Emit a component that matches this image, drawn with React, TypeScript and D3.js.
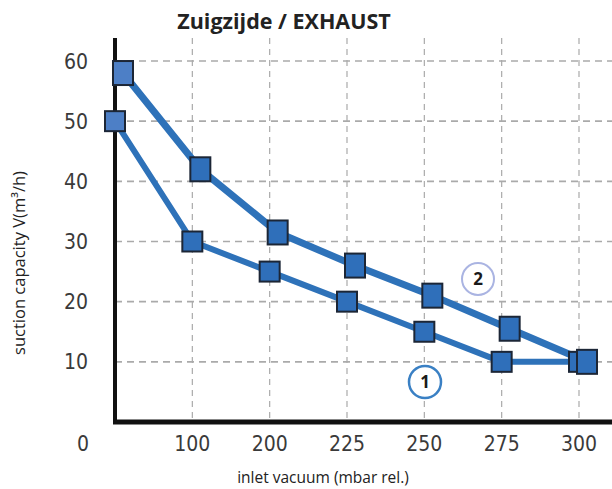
import React from "react";
import * as d3 from "d3";

const categories = ["0", "100", "200", "225", "250", "275", "300"];
const series1 = [50, 30, 25, 20, 15, 10, 10];
const series2 = [58, 42, 31.5, 26, 21, 15.5, 10];
const yTicks = [10, 20, 30, 40, 50, 60];
const title = "Zuigzijde / EXHAUST";
const xTitle = "inlet vacuum (mbar rel.)";
const yTitle = "suction capacity V(m³/h)";

const W = 612;
const H = 489;

export default function App() {
  const x = d3.scalePoint<string>().domain(categories).range([115, 579]);
  const y = d3.scaleLinear().domain([0, 60]).range([422, 61]);
  const off2 = 8;

  const line1 = d3
    .line<number>()
    .x((_, i) => x(categories[i])!)
    .y((d) => y(d));
  const line2 = d3
    .line<number>()
    .x((_, i) => x(categories[i])! + off2)
    .y((d) => y(d));

  const tickFont = "'DejaVu Sans Condensed', 'DejaVu Sans', sans-serif";

  return (
    <div style={{ position: "absolute", left: 0, top: 0 }}>
      <svg width={W} height={H} style={{ display: "block", background: "#fff" }}>
        <text x={284} y={29} textAnchor="middle" fontFamily="'Open Sans', sans-serif" fontWeight={700} fontSize={21.5} fill="#222">
          {title}
        </text>
        {/* grid */}
        {categories.slice(1).map((c) => (
          <line key={"v" + c} x1={x(c)} x2={x(c)} y1={38} y2={421} stroke="#aaa" strokeWidth={1.2} strokeDasharray="6,5" />
        ))}
        {yTicks.map((t) => (
          <line key={"h" + t} x1={115} x2={612} y1={y(t)} y2={y(t)} stroke="#aaa" strokeWidth={1.6} strokeDasharray="7,5" />
        ))}
        {/* axes */}
        <line x1={115} x2={115} y1={38} y2={423} stroke="#111" strokeWidth={4} />
        <line x1={113} x2={612} y1={422} y2={422} stroke="#111" strokeWidth={5} />
        {/* tick labels */}
        {yTicks.map((t) => (
          <text key={"yl" + t} x={88} y={y(t)} dy="0.36em" textAnchor="end" fontFamily={tickFont} fontStretch="condensed" fontSize={21} fill="#3a3a3a">
            {t}
          </text>
        ))}
        {categories.map((c, i) => (
          <text key={"xl" + c} x={i === 0 ? 83 : x(c)} y={443} dy="0.36em" textAnchor="middle" fontFamily={tickFont} fontStretch="condensed" fontSize={21} fill="#3a3a3a">
            {c}
          </text>
        ))}
        {/* axis titles */}
        <text x={323} y={483} textAnchor="middle" fontFamily="'Open Sans', sans-serif" fontSize={15.5} fill="#222">
          {xTitle}
        </text>
        <text transform="translate(25,263) rotate(-90)" textAnchor="middle" fontFamily="'Open Sans', sans-serif" fontSize={16.5} fill="#222">
          {yTitle}
        </text>
        {/* lines */}
        <path d={line1(series1)!} fill="none" stroke="#2e72b9" strokeWidth={6} strokeLinejoin="round" />
        <path d={line2(series2)!} fill="none" stroke="#2e72b9" strokeWidth={7} strokeLinejoin="round" />
        {/* markers */}
        {series1.map((v, i) => (
          <rect key={"m1" + i} x={x(categories[i])! - 10} y={y(v) - 10} width={20} height={20} fill={i === 0 ? "#4d7fc6" : "#2f6fba"} stroke="#1c2636" strokeWidth={2} />
        ))}
        {series2.map((v, i) => (
          <rect key={"m2" + i} x={x(categories[i])! + off2 - 10} y={y(v) - 12} width={20} height={24} fill={i === 0 ? "#4d7fc6" : "#2f6fba"} stroke="#1c2636" strokeWidth={2} />
        ))}
        {/* series labels */}
        <circle cx={425} cy={382} r={16} fill="#fff" stroke="#3a80c4" strokeWidth={2.5} />
        <text x={425} y={382} dy="0.36em" textAnchor="middle" fontFamily="'Open Sans', sans-serif" fontWeight={700} fontSize={17} fill="#1a1a1a">1</text>
        <circle cx={478} cy={279} r={16} fill="#fff" stroke="#aab4e2" strokeWidth={2} />
        <text x={478} y={279} dy="0.36em" textAnchor="middle" fontFamily="'Open Sans', sans-serif" fontWeight={700} fontSize={17} fill="#1a1a1a">2</text>
      </svg>
    </div>
  );
}
